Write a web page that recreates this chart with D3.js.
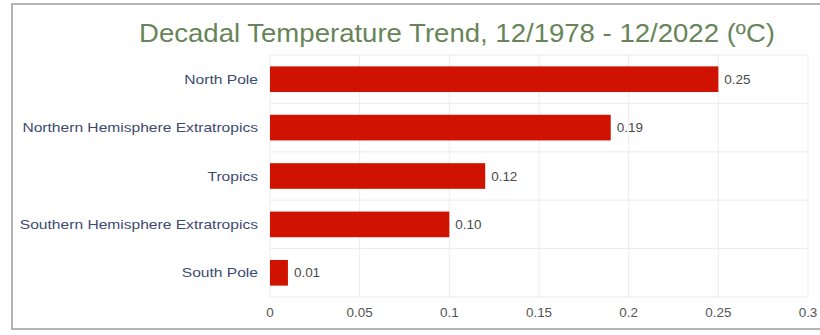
<!DOCTYPE html>
<html>
<head>
<meta charset="utf-8">
<script src="https://cdn.jsdelivr.net/npm/d3@7"></script>
<style>
  html, body { margin: 0; padding: 0; background: #fff; }
  svg { display: block; }
</style>
</head>
<body>
<svg id="chart" width="820" height="335"></svg>
<script>
// Decadal temperature trend by region (°C per decade)
const regions = ["North Pole", "Northern Hemisphere Extratropics", "Tropics", "Southern Hemisphere Extratropics", "South Pole"];
const trends = [0.25, 0.19, 0.12, 0.10, 0.01];
const trendLabels = ["0.25", "0.19", "0.12", "0.10", "0.01"];
const xTicks = [0, 0.05, 0.1, 0.15, 0.2, 0.25, 0.3];
const xTickLabels = ["0", "0.05", "0.1", "0.15", "0.2", "0.25", "0.3"];
const titleText = "Decadal Temperature Trend, 12/1978 - 12/2022 (ºC)";

const svg = d3.select("#chart");
const font = "'Liberation Sans', Arial, sans-serif";

const plot = { left: 270, right: 808, top: 55, bottom: 297 };

const x = d3.scaleLinear().domain([0, 0.3]).range([plot.left, plot.right]);
const y = d3.scaleBand().domain(regions).range([plot.top, plot.bottom])
  .paddingInner(0.47).paddingOuter(0.235);

// outer frame
svg.append("rect")
  .attr("x", 12).attr("y", 4).attr("width", 830).attr("height", 325)
  .attr("fill", "none").attr("stroke", "#b4b4b4").attr("stroke-width", 2);

// title
svg.append("text")
  .attr("transform", "translate(457,42) scale(1.06,1)")
  .attr("text-anchor", "middle")
  .attr("font-family", font).attr("font-size", 26)
  .attr("fill", "#678558")
  .text(titleText);

// vertical gridlines
svg.append("g").selectAll("line").data(xTicks).join("line")
  .attr("x1", d => x(d)).attr("x2", d => x(d))
  .attr("y1", plot.top).attr("y2", plot.bottom)
  .attr("stroke", "#ececec").attr("stroke-width", 1);

// horizontal gridlines between categories
const step = y.step();
const bounds = [plot.top].concat(regions.map(r => y(r) + y.bandwidth() / 2 + step / 2));
svg.append("g").selectAll("line").data(bounds).join("line")
  .attr("x1", plot.left).attr("x2", plot.right)
  .attr("y1", d => d).attr("y2", d => d)
  .attr("stroke", "#ececec").attr("stroke-width", 1);

// bars
svg.append("g").selectAll("rect").data(regions).join("rect")
  .attr("x", x(0))
  .attr("y", r => y(r))
  .attr("width", (r, i) => x(trends[i]) - x(0))
  .attr("height", y.bandwidth())
  .attr("fill", "#d01300");

// value labels
svg.append("g").selectAll("text").data(regions).join("text")
  .attr("transform", (r, i) => `translate(${x(trends[i]) + 6},${y(r) + y.bandwidth() / 2 + 4.5}) scale(1.12,1)`)
  .attr("font-family", font).attr("font-size", 12)
  .attr("fill", "#4a4a4a")
  .text((r, i) => trendLabels[i]);

// category labels
svg.append("g").selectAll("text").data(regions).join("text")
  .attr("transform", r => `translate(258,${y(r) + y.bandwidth() / 2 + 4.5}) scale(1.2,1)`)
  .attr("text-anchor", "end")
  .attr("font-family", font).attr("font-size", 13)
  .attr("fill", "#3e4a70")
  .text(r => r);

// x tick labels
svg.append("g").selectAll("text").data(xTicks).join("text")
  .attr("transform", d => `translate(${x(d)},317) scale(1.12,1)`)
  .attr("text-anchor", "middle")
  .attr("font-family", font).attr("font-size", 12)
  .attr("fill", "#555")
  .text((d, i) => xTickLabels[i]);
</script>
</body>
</html>
